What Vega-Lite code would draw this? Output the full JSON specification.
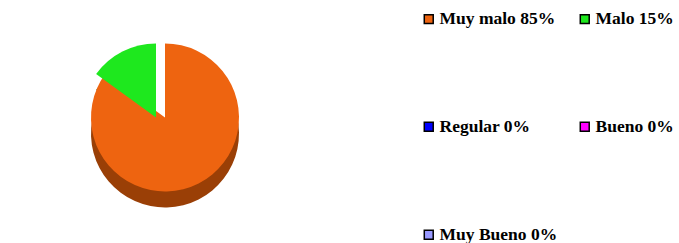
{
  "$schema": "https://vega.github.io/schema/vega-lite/v6.json",
  "width": 330,
  "height": 243,
  "padding": 0,
  "background": "white",
  "config": {"view": {"stroke": null}},
  "data": {"values": [
    {"categoria": "Muy malo 85%", "valor": 85, "orden": 1},
    {"categoria": "Malo 15%", "valor": 15, "orden": 2},
    {"categoria": "Regular 0%", "valor": 0, "orden": 3},
    {"categoria": "Bueno 0%", "valor": 0, "orden": 4},
    {"categoria": "Muy Bueno 0%", "valor": 0, "orden": 5}
  ]},
  "layer": [
    {
      "mark": {"type": "arc", "outerRadius": 74, "yOffset": 12,
        "xOffset": {"expr": "datum.categoria == 'Malo 15%' ? -9 : 0"}},
      "encoding": {
        "theta": {"field": "valor", "type": "quantitative", "stack": true},
        "order": {"field": "orden", "type": "quantitative"},
        "color": {"field": "categoria", "type": "nominal", "legend": null,
          "scale": {"domain": ["Muy malo 85%", "Malo 15%", "Regular 0%", "Bueno 0%", "Muy Bueno 0%"],
                    "range": ["#9a3f06", "#0b760b", "#000080", "#800080", "#555588"]}}
      }
    },
    {
      "mark": {"type": "arc", "outerRadius": 74, "yOffset": -4,
        "xOffset": {"expr": "datum.categoria == 'Malo 15%' ? -9 : 0"}},
      "encoding": {
        "theta": {"field": "valor", "type": "quantitative", "stack": true},
        "order": {"field": "orden", "type": "quantitative"},
        "color": {"field": "categoria", "type": "nominal",
          "scale": {"domain": ["Muy malo 85%", "Malo 15%", "Regular 0%", "Bueno 0%", "Muy Bueno 0%"],
                    "range": ["#ee6410", "#1ee81e", "#0000ff", "#ff00ff", "#9999ff"]},
          "legend": {
            "title": null, "orient": "right", "offset": 80, "padding": 10,
            "direction": "horizontal",
            "columns": 2, "columnPadding": 18, "rowPadding": 89,
            "symbolType": "square", "symbolSize": 80, "symbolStrokeColor": "black", "symbolStrokeWidth": 1.5,
            "labelFont": "Liberation Serif", "labelFontSize": 17.5, "labelFontWeight": "bold", "labelColor": "black",
            "labelOffset": 2, "labelLimit": 300
          }}
      }
    }
  ],
  "resolve": {"scale": {"color": "independent"}}
}
